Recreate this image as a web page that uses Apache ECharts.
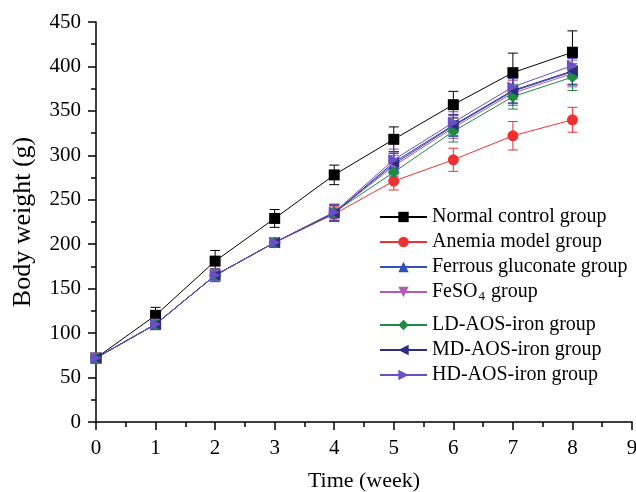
<!DOCTYPE html>
<html>
<head>
<meta charset="utf-8">
<script src="https://cdn.jsdelivr.net/npm/echarts@6/dist/echarts.min.js"></script>
<style>
  html, body { margin: 0; padding: 0; background: #fff; }
  #main { width: 636px; height: 492px; }
</style>
</head>
<body>
<div id="main"></div>
<script>
// 体重数据 (g), mean and error per week
var weeks = [0, 1, 2, 3, 4, 5, 6, 7, 8];

var normalMean = [72, 120, 181, 229, 278, 318, 357, 393, 416];
var normalErr  = [4, 9, 12, 10, 11, 14, 15, 22, 24];

var anemiaMean = [72, 110, 165, 202, 234, 271, 295, 322, 340];
var anemiaErr  = [4, 6, 7, 5, 8, 10, 13, 16, 14];

var ferrousMean = [72, 110, 165, 202, 235, 290, 333, 372, 394];
var ferrousErr  = [4, 6, 7, 5, 9, 12, 12, 14, 15];

var feso4Mean = [72, 110, 165, 202, 235, 288, 331, 370, 392];
var feso4Err  = [4, 6, 7, 5, 9, 12, 12, 14, 15];

var ldMean = [72, 110, 165, 202, 236, 281, 327, 366, 388];
var ldErr  = [4, 6, 7, 5, 9, 12, 12, 14, 15];

var mdMean = [72, 110, 165, 202, 235, 292, 334, 373, 395];
var mdErr  = [4, 6, 7, 5, 9, 12, 12, 14, 15];

var hdMean = [72, 110, 165, 202, 236, 295, 337, 377, 401];
var hdErr  = [4, 6, 7, 5, 9, 12, 12, 14, 15];

var groupNames = ['Normal control group', 'Anemia model group', 'Ferrous gluconate group',
  'FeSO4 group', 'LD-AOS-iron group', 'MD-AOS-iron group', 'HD-AOS-iron group'];

var serif = "'Liberation Serif', 'Times New Roman', serif";

var groups = [
  { name: groupNames[0], mean: normalMean,  err: normalErr,  color: '#000000', symbol: 'rect',     rot: 0 },
  { name: groupNames[1], mean: anemiaMean,  err: anemiaErr,  color: '#EE3030', symbol: 'circle',   rot: 0 },
  { name: groupNames[2], mean: ferrousMean, err: ferrousErr, color: '#3050B8', symbol: 'triangle', rot: 0 },
  { name: groupNames[3], mean: feso4Mean,   err: feso4Err,   color: '#B05CB8', symbol: 'triangle', rot: 180 },
  { name: groupNames[4], mean: ldMean,      err: ldErr,      color: '#1F8A42', symbol: 'diamond',  rot: 0 },
  { name: groupNames[5], mean: mdMean,      err: mdErr,      color: '#2C2C80', symbol: 'triangle', rot: 90 },
  { name: groupNames[6], mean: hdMean,      err: hdErr,      color: '#6A50C4', symbol: 'triangle', rot: -90 }
];

function errorBar(params, api) {
  var x = api.value(0);
  var top = api.coord([x, api.value(2)]);
  var bot = api.coord([x, api.value(1)]);
  var half = 5;
  var st = { stroke: api.visual('color'), lineWidth: 1 };
  return {
    type: 'group',
    children: [
      { type: 'line', shape: { x1: top[0], y1: top[1], x2: bot[0], y2: bot[1] }, style: st },
      { type: 'line', shape: { x1: top[0] - half, y1: top[1], x2: top[0] + half, y2: top[1] }, style: st },
      { type: 'line', shape: { x1: bot[0] - half, y1: bot[1], x2: bot[0] + half, y2: bot[1] }, style: st }
    ]
  };
}

var series = [];
groups.forEach(function (g) {
  series.push({
    name: g.name + ' err',
    type: 'custom',
    renderItem: errorBar,
    itemStyle: { color: g.color },
    data: weeks.map(function (w, i) { return [w, g.mean[i] - g.err[i], g.mean[i] + g.err[i]]; }),
    z: 1,
    silent: true
  });
});
groups.forEach(function (g) {
  series.push({
    name: g.name,
    type: 'line',
    symbol: g.symbol,
    symbolSize: g.symbol === 'diamond' ? 12 : 11,
    symbolRotate: g.rot,
    itemStyle: { color: g.color },
    lineStyle: { color: g.color, width: 1 },
    data: weeks.map(function (w, i) { return [w, g.mean[i]]; }),
    z: 3
  });
});

var legendText = {
  fontFamily: serif,
  fontSize: 20,
  color: '#000',
  rich: {
    a: { fontFamily: serif, fontSize: 20, color: '#000' },
    s: { fontFamily: serif, fontSize: 13, color: '#000', padding: [10, 1, 0, 1] }
  }
};
function legendFmt(name) {
  if (name === 'FeSO4 group') return '{a|FeSO}{s|4}{a| group}';
  return name;
}

var chart = echarts.init(document.getElementById('main'));
chart.setOption({
  animation: false,
  grid: { left: 96, right: 4, top: 22, bottom: 70, containLabel: false, outerBoundsMode: 'none' },
  legend: [
    {
      data: groupNames.slice(0, 4),
      orient: 'vertical', left: 374, top: 202,
      itemWidth: 47, itemHeight: 13, itemGap: 5,
      textStyle: legendText, formatter: legendFmt
    },
    {
      data: groupNames.slice(4),
      orient: 'vertical', left: 374, top: 310,
      itemWidth: 47, itemHeight: 13, itemGap: 5,
      textStyle: legendText
    }
  ],
  xAxis: {
    type: 'value', min: 0, max: 9, interval: 1,
    name: 'Time (week)', nameLocation: 'middle', nameGap: 48,
    nameTextStyle: { fontFamily: serif, fontSize: 22, color: '#000' },
    axisLine: { show: true, onZero: false, lineStyle: { color: '#000', width: 1.5 } },
    axisTick: { show: true, inside: false, length: 8, lineStyle: { color: '#000', width: 1.5 } },
    minorTick: { show: true, splitNumber: 2, length: 5, lineStyle: { color: '#000', width: 1.5 } },
    axisLabel: { fontFamily: serif, fontSize: 21, color: '#000', margin: 16 },
    splitLine: { show: false }
  },
  yAxis: {
    type: 'value', min: 0, max: 450, interval: 50,
    name: 'Body weight (g)', nameLocation: 'middle', nameGap: 60,
    nameTextStyle: { fontFamily: serif, fontSize: 26, color: '#000' },
    axisLine: { show: true, lineStyle: { color: '#000', width: 1.5 } },
    axisTick: { show: true, inside: false, length: 8, lineStyle: { color: '#000', width: 1.5 } },
    minorTick: { show: true, splitNumber: 2, length: 5, lineStyle: { color: '#000', width: 1.5 } },
    axisLabel: { fontFamily: serif, fontSize: 21, color: '#000', margin: 15 },
    splitLine: { show: false }
  },
  series: series
});
</script>
</body>
</html>
